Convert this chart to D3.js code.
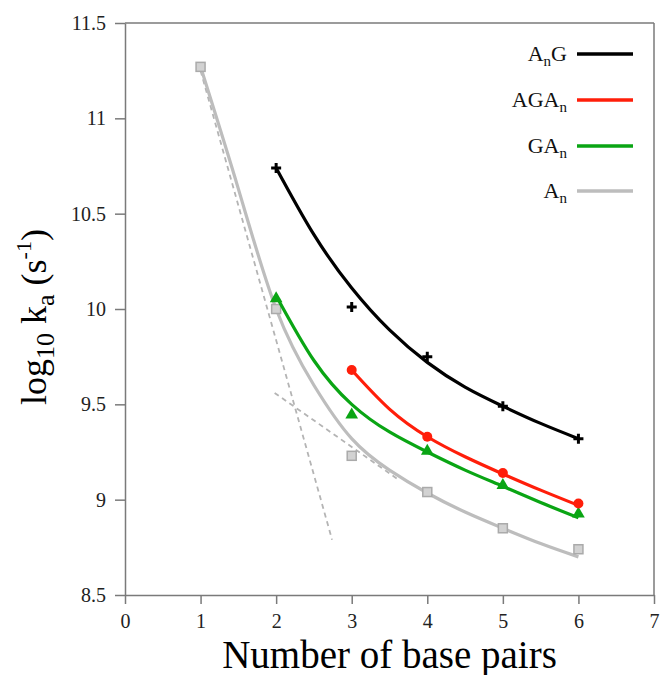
<!DOCTYPE html>
<html lang="en">
<head>
    <meta charset="UTF-8">
    <title>log10 ka vs number of base pairs</title>
    <script src="https://d3js.org/d3.v7.min.js"></script>
    <style>
        body { margin: 0; background: #fff; }
        svg text { font-family: "Liberation Serif", "Times New Roman", serif; }
    </style>
</head>
<body>
<div id="chart"></div>
<script>
    // measured points (number of base pairs -> log10 ka)
    var anG_x = [2, 3, 4, 5, 6];
    var anG_y = [10.74, 10.01, 9.75, 9.49, 9.32];
    var agaN_x = [3, 4, 5, 6];
    var agaN_y = [9.68, 9.33, 9.14, 8.98];
    var gaN_x = [2, 3, 4, 5, 6];
    var gaN_y = [10.05, 9.44, 9.25, 9.07, 8.92];
    var aN_x = [1, 2, 3, 4, 5, 6];
    var aN_y = [11.27, 10.0, 9.23, 9.04, 8.85, 8.74];

    // fitted curves
    var anG_fitX = [2, 2.5, 3, 3.5, 4, 4.5, 5, 5.5, 6];
    var anG_fitY = [10.74, 10.39, 10.11, 9.89, 9.72, 9.59, 9.49, 9.40, 9.32];
    var agaN_fitX = [3, 3.5, 4, 4.5, 5, 5.5, 6];
    var agaN_fitY = [9.68, 9.475, 9.33, 9.225, 9.135, 9.05, 8.97];
    var gaN_fitX = [2, 2.5, 3, 3.5, 4, 4.5, 5, 5.5, 6];
    var gaN_fitY = [10.07, 9.73, 9.50, 9.355, 9.25, 9.155, 9.07, 8.985, 8.905];
    var aN_fitX = [1, 1.5, 2, 2.5, 3, 3.5, 4, 4.5, 5, 5.5, 6];
    var aN_fitY = [11.27, 10.63, 10.0, 9.6, 9.32, 9.155, 9.035, 8.935, 8.85, 8.77, 8.70];

    // dashed guide lines (two regimes of the An curve)
    var guide1_x = [1, 2.74];
    var guide1_y = [11.25, 8.79];
    var guide2_x = [1.98, 3.6];
    var guide2_y = [9.56, 9.11];

    var xTicks = [0, 1, 2, 3, 4, 5, 6, 7];
    var yTicks = [8.5, 9, 9.5, 10, 10.5, 11, 11.5];

    var width = 661, height = 675;
    var margin = {top: 23, right: 7, bottom: 80, left: 125};
    var serif = "'Liberation Serif', 'Times New Roman', serif";

    var svg = d3.select("#chart")
        .append("svg")
        .attr("width", width)
        .attr("height", height);

    var x = d3.scaleLinear()
        .domain([0, 7])
        .range([margin.left, width - margin.right]);

    var y = d3.scaleLinear()
        .domain([8.5, 11.5])
        .range([height - margin.bottom, margin.top]);

    var axisColor = "#7a7a7a";

    // frame: top and right sides
    svg.append("line")
        .attr("x1", x(0)).attr("x2", x(7))
        .attr("y1", y(11.5)).attr("y2", y(11.5))
        .attr("stroke", axisColor).attr("stroke-width", 1.5);
    svg.append("line")
        .attr("x1", x(7)).attr("x2", x(7))
        .attr("y1", y(11.5)).attr("y2", y(8.5))
        .attr("stroke", axisColor).attr("stroke-width", 1.5);

    // axes
    var xAxis = svg.append("g")
        .attr("transform", "translate(0," + y(8.5) + ")")
        .call(d3.axisBottom(x).tickValues(xTicks).tickFormat(d3.format("d"))
            .tickSize(9).tickSizeOuter(0).tickPadding(10));

    var yAxis = svg.append("g")
        .attr("transform", "translate(" + x(0) + ",0)")
        .call(d3.axisLeft(y).tickValues(yTicks).tickFormat(function (d) { return String(d); })
            .tickSize(10).tickSizeOuter(0).tickPadding(9));

    [xAxis, yAxis].forEach(function (g) {
        g.attr("font-family", serif).attr("font-size", 20);
        g.select(".domain").attr("stroke", axisColor).attr("stroke-width", 1.5);
        g.selectAll(".tick line").attr("stroke", axisColor).attr("stroke-width", 1.5);
        g.selectAll(".tick text")
            .attr("fill", "#222")
            .style("font-family", serif)
            .style("font-size", "20px");
    });

    // axis titles
    svg.append("text")
        .attr("x", x(3.5))
        .attr("y", 668)
        .attr("text-anchor", "middle")
        .style("font-size", "39px")
        .text("Number of base pairs");

    var ytitle = svg.append("text")
        .attr("transform", "translate(46," + 317 + ") rotate(-90)")
        .attr("text-anchor", "middle")
        .style("font-size", "36px");
    ytitle.append("tspan").text("log");
    ytitle.append("tspan").attr("dy", 8).style("font-size", "26px").text("10");
    ytitle.append("tspan").attr("dy", -8).text(" k");
    ytitle.append("tspan").attr("dy", 8).style("font-size", "26px").text("a");
    ytitle.append("tspan").attr("dy", -8).text(" (s");
    ytitle.append("tspan").attr("dy", -15).style("font-size", "22px").text("-1");
    ytitle.append("tspan").attr("dy", 15).text(")");

    var line = d3.line()
        .x(function (d) { return x(d[0]); })
        .y(function (d) { return y(d[1]); });

    var smooth = d3.line()
        .x(function (d) { return x(d[0]); })
        .y(function (d) { return y(d[1]); })
        .curve(d3.curveNatural);

    function pairs(xs, ys) {
        return xs.map(function (v, i) { return [v, ys[i]]; });
    }

    // dashed guides
    [pairs(guide1_x, guide1_y), pairs(guide2_x, guide2_y)].forEach(function (g) {
        svg.append("path")
            .attr("d", line(g))
            .attr("fill", "none")
            .attr("stroke", "#b4b4b4")
            .attr("stroke-width", 1.8)
            .attr("stroke-dasharray", "5,4");
    });

    var series = [
        {name: "An", color: "#bdbdbd", fx: aN_fitX, fy: aN_fitY, px: aN_x, py: aN_y, marker: "square"},
        {name: "GAn", color: "#0aa514", fx: gaN_fitX, fy: gaN_fitY, px: gaN_x, py: gaN_y, marker: "triangle"},
        {name: "AGAn", color: "#ff1e0a", fx: agaN_fitX, fy: agaN_fitY, px: agaN_x, py: agaN_y, marker: "circle"},
        {name: "AnG", color: "#000000", fx: anG_fitX, fy: anG_fitY, px: anG_x, py: anG_y, marker: "plus"}
    ];

    series.forEach(function (s) {
        svg.append("path")
            .attr("d", smooth(pairs(s.fx, s.fy)))
            .attr("fill", "none")
            .attr("stroke", s.color)
            .attr("stroke-width", 3.2);

        var pts = svg.append("g").selectAll("g")
            .data(pairs(s.px, s.py))
            .enter()
            .append("g")
            .attr("transform", function (d) { return "translate(" + x(d[0]) + "," + y(d[1]) + ")"; });

        if (s.marker == "square") {
            pts.append("rect")
                .attr("x", -4.5).attr("y", -4.5).attr("width", 9).attr("height", 9)
                .attr("fill", "#d2d2d2").attr("stroke", "#aaaaaa").attr("stroke-width", 1.5);
        } else if (s.marker == "triangle") {
            pts.append("path")
                .attr("d", d3.symbol().type(d3.symbolTriangle).size(70))
                .attr("transform", "translate(0,-1)")
                .attr("fill", s.color);
        } else if (s.marker == "circle") {
            pts.append("circle").attr("r", 5).attr("fill", s.color);
        } else {
            pts.append("path")
                .attr("d", "M-5,0H5M0,-5V5")
                .attr("stroke", s.color)
                .attr("stroke-width", 3);
        }
    });

    // legend
    var legend = [
        {parts: [["A", 0], ["n", 1], ["G", 0]], color: "#000000", y: 54},
        {parts: [["AGA", 0], ["n", 1]], color: "#ff1e0a", y: 100},
        {parts: [["GA", 0], ["n", 1]], color: "#0aa514", y: 146},
        {parts: [["A", 0], ["n", 1]], color: "#bdbdbd", y: 191}
    ];

    legend.forEach(function (l) {
        svg.append("line")
            .attr("x1", 577).attr("x2", 633)
            .attr("y1", l.y).attr("y2", l.y)
            .attr("stroke", l.color)
            .attr("stroke-width", 3.5);

        var t = svg.append("text")
            .attr("x", 567)
            .attr("y", l.y + 7)
            .attr("text-anchor", "end")
            .style("font-size", "22px")
            .attr("fill", "#111");
        var shifted = 0;
        l.parts.forEach(function (p) {
            var dy = (p[1] ? 5 : 0) - shifted;
            shifted = p[1] ? 5 : 0;
            t.append("tspan")
                .attr("dy", dy)
                .style("font-size", p[1] ? "15px" : "22px")
                .text(p[0]);
        });
    });
</script>
</body>
</html>
